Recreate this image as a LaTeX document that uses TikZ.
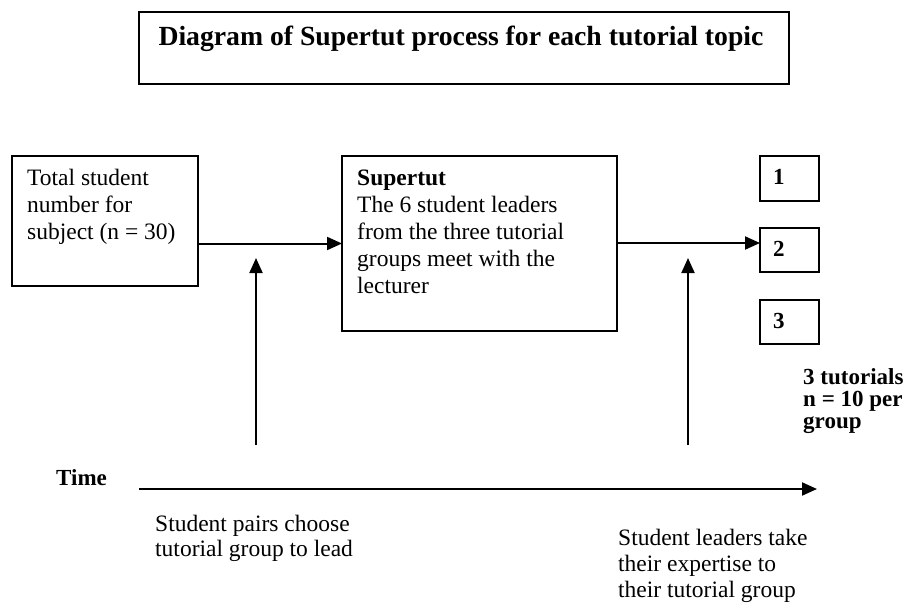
\documentclass[tikz,border=0pt]{standalone}
\usepackage{fontspec}
\setmainfont{Liberation Serif}
\usetikzlibrary{arrows.meta}
\tikzset{
  boxshape/.style={draw, line width=2pt, outer sep=0pt, inner sep=0pt, anchor=north west},
  arr/.style={-{Triangle[length=15pt,width=13pt]}, line width=2pt},
  bodytext/.style={font=\fontsize{23.5}{27}\selectfont, align=left, anchor=base west, inner sep=0pt},
  lowtext/.style={font=\fontsize{23.5}{26}\selectfont, align=left, anchor=base west, inner sep=0pt},
  boldlabel/.style={font=\fontsize{23}{22}\selectfont\bfseries, align=left, anchor=base west, inner sep=0pt},
}
\begin{document}
\begin{tikzpicture}[x=1pt,y=-1pt]
\useasboundingbox (0,0) rectangle (912,605);
% title
\node[boxshape, minimum width=650pt, minimum height=72pt] (titlebox) at (139,12) {};
\node[font=\fontsize{27.7}{30}\selectfont\bfseries, anchor=base, inner sep=0pt] (titletext) at (461,45) {Diagram of Supertut process for each tutorial topic};
% boxes
\node[boxshape, minimum width=186pt, minimum height=130pt] (total) at (12,156) {};
\node[bodytext] (totaltext) at (27,239) {Total student\\number for\\subject (n = 30)};
\node[boxshape, minimum width=275pt, minimum height=175pt] (super) at (342,156) {};
\node[bodytext] (supertext) at (357,293) {\textbf{Supertut}\\The 6 student leaders\\from the three tutorial\\groups meet with the\\lecturer};
\node[boxshape, minimum width=59pt, minimum height=45pt] (t1) at (760,156) {};
\node[boxshape, minimum width=59pt, minimum height=44pt] (t2) at (760,228) {};
\node[boxshape, minimum width=59pt, minimum height=44pt] (t3) at (760,300) {};
\node[boldlabel] (t1text) at (773,184) {1};
\node[boldlabel] (t2text) at (773,256) {2};
\node[boldlabel] (t3text) at (773,328) {3};
\node[boldlabel] (tutnote) at (803,428) {3 tutorials\\n = 10 per\\group};
% connectors
\coordinate (t2in) at ([yshift=7pt]t2.west);
\draw[arr] (total.east |- super.west) -- (super.west);
\draw[arr] (super.east |- t2in) -- (t2in);
\coordinate (up1s) at (256,445);
\coordinate (up1e) at (256,258);
\coordinate (up2s) at (688,445);
\coordinate (up2e) at (688,258);
\draw[arr] (up1s) -- (up1e);
\draw[arr] (up2s) -- (up2e);
% time axis
\node[font=\fontsize{23}{26}\selectfont\bfseries, anchor=base west, inner sep=0pt] (timelabel) at (56,485) {Time};
\coordinate (timestart) at (139,489);
\coordinate (timeend) at (817,489);
\draw[arr] (timestart) -- (timeend);
% lower labels
\node[lowtext, font=\fontsize{23.5}{25}\selectfont] (pairs) at (155,556) {Student pairs choose\\tutorial group to lead};
\node[lowtext] (leaders) at (618,597) {Student leaders take\\their expertise to\\their tutorial group};
\end{tikzpicture}
\end{document}
